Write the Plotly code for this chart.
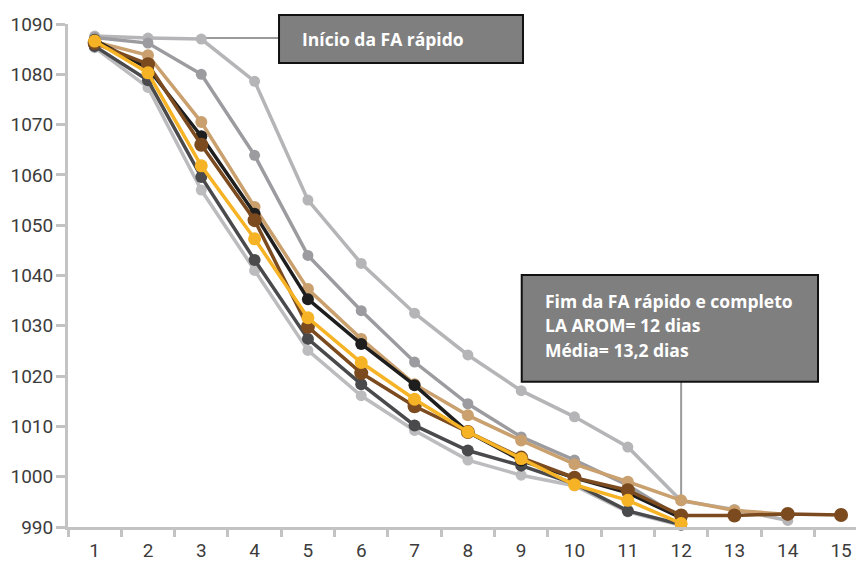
import plotly.graph_objects as go

days = [str(d) for d in range(1, 16)]

# series values (density)
s_slow_grey = [1087.6, 1087.2, 1087.0, 1078.6, 1055.0, 1042.4, 1032.5, 1024.2, 1017.1, 1011.9, 1005.9, 995.2, 993.5, 991.3]
s_mid_grey = [1087.3, 1086.2, 1080.0, 1063.9, 1044.0, 1033.0, 1022.8, 1014.5, 1007.9, 1003.3, 998.3, 991.8]
s_tan = [1086.5, 1083.8, 1070.5, 1053.6, 1037.3, 1027.4, 1018.4, 1012.2, 1007.2, 1002.5, 999.0, 995.3, 993.3, 992.5]
s_black = [1086.8, 1081.2, 1067.7, 1052.3, 1035.3, 1026.4, 1018.2, 1008.9, 1003.2, 999.8, 996.8, 991.8]
s_brown = [1086.2, 1082.0, 1066.0, 1051.0, 1029.8, 1020.6, 1014.0, 1008.9, 1003.8, 999.8, 997.3, 992.3, 992.3, 992.6, 992.4]
s_yellow = [1086.6, 1080.3, 1061.8, 1047.3, 1031.6, 1022.7, 1015.4, 1008.9, 1003.6, 998.4, 995.3, 990.7]
s_dark_grey = [1085.6, 1078.8, 1059.6, 1043.1, 1027.4, 1018.4, 1010.2, 1005.2, 1002.2, 998.6, 993.2, 990.5]
s_light_grey = [1085.3, 1077.4, 1057.0, 1041.0, 1025.1, 1016.1, 1009.2, 1003.3, 1000.3, 998.2, 993.0, 990.3]

y_ticks = [990, 1000, 1010, 1020, 1030, 1040, 1050, 1060, 1070, 1080, 1090]

series = [
    ("slow", s_slow_grey, "#b5b5b8", 11),
    ("mid", s_mid_grey, "#9c9ca0", 11),
    ("light", s_light_grey, "#bcbcbf", 11),
    ("tan", s_tan, "#c9a06e", 12),
    ("darkgrey", s_dark_grey, "#4a4a4c", 12),
    ("black", s_black, "#1e1e1e", 12),
    ("brown", s_brown, "#7b4b1f", 14),
    ("yellow", s_yellow, "#f6b326", 13),
]

fig = go.Figure()
for name, vals, col, ms in series:
    fig.add_trace(go.Scatter(
        x=days[:len(vals)], y=vals, mode="lines+markers", name=name,
        line=dict(color=col, width=3.5),
        marker=dict(color=col, size=ms),
        showlegend=False, cliponaxis=False,
    ))

axis_col = "#c3c3c3"
tick_font = dict(family="Roboto", size=19, color="#3c3c3c")

fig.update_layout(
    width=856, height=561,
    margin=dict(l=68, r=0, t=24, b=34),
    paper_bgcolor="white", plot_bgcolor="white",
    xaxis=dict(
        type="category", categoryorder="array", categoryarray=days,
        range=[-0.5, 14.28], tickson="boundaries", automargin=False,
        showgrid=False, zeroline=False,
        showline=True, linecolor=axis_col, linewidth=3,
        ticks="outside", ticklen=7, tickwidth=3, tickcolor=axis_col,
        tickfont=tick_font, ticklabelstandoff=4,
    ),
    yaxis=dict(
        range=[990, 1090], tickvals=y_ticks, automargin=False,
        showgrid=False, zeroline=False,
        showline=True, linecolor=axis_col, linewidth=3,
        ticks="outside", ticklen=9, tickwidth=3, tickcolor=axis_col,
        tickfont=tick_font, ticklabelstandoff=-1,
    ),
)

# connector lines
fig.add_shape(type="line", xref="x", yref="y", x0=2, x1=3.47, y0=1087.2, y1=1087.2,
              line=dict(color="#9a9a9a", width=2), layer="below")
fig.add_shape(type="line", xref="x", yref="y", x0=11, x1=11, y0=995.3, y1=1019.0,
              line=dict(color="#9a9a9a", width=2), layer="below")

box_fill = "#7f7f7f"
fig.add_shape(type="rect", xref="paper", yref="paper", x0=0.2678, x1=0.5774, y0=0.9225, y1=1.0179,
              fillcolor=box_fill, line=dict(color="#111111", width=2))
fig.add_shape(type="rect", xref="paper", yref="paper", x0=0.5758, x1=0.9518, y0=0.2889, y1=0.5010,
              fillcolor=box_fill, line=dict(color="#111111", width=2))

ann_font = dict(family="Open Sans", size=17.5, color="white")
def txt(x, y, t):
    fig.add_annotation(xref="paper", yref="paper", x=x, y=y, text="<b>" + t + "</b>",
                       showarrow=False, xanchor="left", yanchor="middle", font=ann_font)

txt(0.2944, 0.970, "Início da FA rápido")
txt(0.6024, 0.4499, "Fim da FA rápido e completo")
txt(0.6024, 0.4016, "LA AROM= 12 dias")
txt(0.6024, 0.3519, "Média= 13,2 dias")

fig.write_html("out.html", config={"displayModeBar": False},
               post_script="document.body.style.margin='0';document.body.style.overflow='hidden';")
